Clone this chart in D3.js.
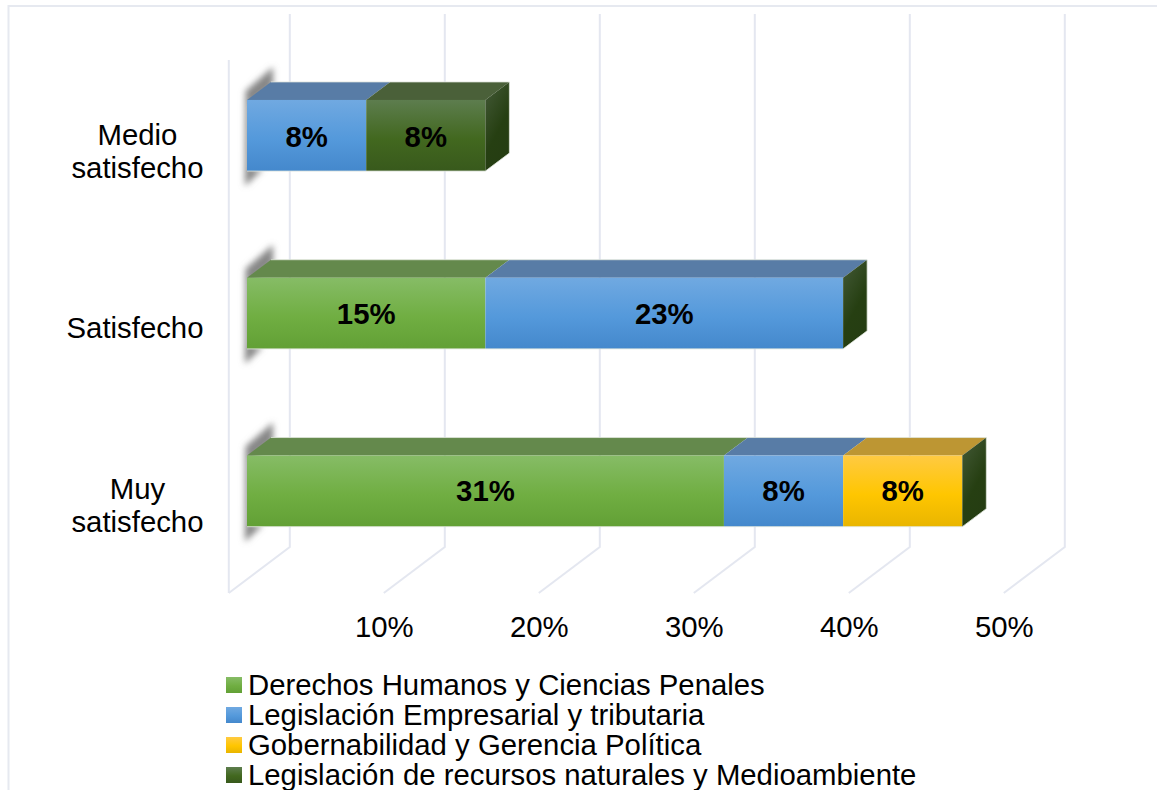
<!DOCTYPE html>
<html>
<head>
<meta charset="utf-8">
<script src="https://cdn.jsdelivr.net/npm/d3@7"></script>
<style>
  html, body { margin: 0; padding: 0; background: #fff; overflow: hidden; }
  svg { display: block; font-family: "Liberation Sans", Arial, sans-serif; }
</style>
</head>
<body>
<svg id="chart" width="1157" height="790"></svg>
<script>
const categories = ['Medio satisfecho', 'Satisfecho', 'Muy satisfecho'];
const categoryLines = [['Medio', 'satisfecho'], ['Satisfecho'], ['Muy', 'satisfecho']];
const seriesNames = [
  'Derechos Humanos y Ciencias Penales',
  'Legislación Empresarial y tributaria',
  'Gobernabilidad y Gerencia Política',
  'Legislación de recursos naturales y Medioambiente',
];
const derechos = [0, 15.38, 30.77];
const empresarial = [7.69, 23.08, 7.69];
const gobernabilidad = [0, 0, 7.69];
const recursos = [7.69, 0, 0];
const labels = [
  ['', '15%', '31%'],
  ['8%', '23%', '8%'],
  ['', '', '8%'],
  ['8%', '', ''],
];
const xTicks = [10, 20, 30, 40, 50];

const frontColors = [
  ['#86bc66', '#70ae42', '#62a035'],
  ['#70a9e1', '#5499db', '#4488cc'],
  ['#ffca42', '#ffc600', '#e9b500'],
  ['#5d7d4e', '#42681f', '#38591c'],
];
const topColors = ['#64894c', '#587ca6', '#bd9633', '#4a6039'];
const gridColor = '#e4e7f0';
const fontSize = 29.33;

const svg = d3.select('#chart');
const defs = svg.append('defs');

frontColors.forEach((c, i) => {
  const g = defs.append('linearGradient').attr('id', `front${i}`)
    .attr('x1', 0).attr('y1', 0).attr('x2', 0).attr('y2', 1);
  g.append('stop').attr('offset', '0%').attr('stop-color', c[0]);
  g.append('stop').attr('offset', '55%').attr('stop-color', c[1]);
  g.append('stop').attr('offset', '100%').attr('stop-color', c[2]);
});
const sideGrad = defs.append('linearGradient').attr('id', 'side')
  .attr('x1', 0).attr('y1', 0).attr('x2', 0.5).attr('y2', 1);
sideGrad.append('stop').attr('offset', '0%').attr('stop-color', '#445a38');
sideGrad.append('stop').attr('offset', '65%').attr('stop-color', '#263f12');
sideGrad.append('stop').attr('offset', '100%').attr('stop-color', '#253d12');
defs.append('filter').attr('id', 'blur')
  .attr('x', '-30%').attr('y', '-30%').attr('width', '160%').attr('height', '160%')
  .append('feGaussianBlur').attr('stdDeviation', 3);

// scales: x is measured from the front floor edge, the rest are depth offsets
const x = d3.scaleLinear().domain([0, 50]).range([228.8, 1003.8]);
const y = d3.scaleBand().domain(categories).range([46.6, 580]).paddingInner(0.6).paddingOuter(0.3);
const labelBase = d3.scalePoint().domain(categories).range([147.3, 501]);
const categoryMid = d3.scalePoint().domain(categories).range([161.6, 515.2]);
const wallDx = 61, wallDy = 46, wallTop = 14, floorY = 593;
const barInset = 18.2, barDx = 24, barDy = 18;

const rows = categories.map((c, i) => ({
  category: c,
  s0: derechos[i], s1: empresarial[i], s2: gobernabilidad[i], s3: recursos[i],
}));
const stacked = d3.stack().keys(['s0', 's1', 's2', 's3'])(rows);
const bx = (v) => x(v) + barInset;

// outer frame
svg.append('path')
  .attr('d', 'M1157,6H8.5V790')
  .attr('fill', 'none')
  .attr('stroke', '#e6e9f0')
  .attr('stroke-width', 2);

// walls and floor
const grid = svg.append('g').attr('fill', 'none').attr('stroke', gridColor).attr('stroke-width', 2);
grid.selectAll('path.wall')
  .data([0].concat(xTicks))
  .join('path')
  .attr('class', 'wall')
  .attr('d', (d) => `M${x(d) + wallDx},${wallTop}V${floorY - wallDy}L${x(d)},${floorY}`);
grid.append('path')
  .attr('d', `M${x(0)},${floorY}V${wallTop + wallDy}`);

// soft shadow the bars throw on the left side
svg.append('g').attr('filter', 'url(#blur)').attr('fill', '#868686')
  .selectAll('path')
  .data(categories)
  .join('path')
  .attr('d', (d) => {
    const t = y(d), b = t + y.bandwidth(), l = bx(0);
    return `M${l - 1.5},${t - 9}L${l + barDx + 2},${t - barDy - 15}V${t - barDy + 4}L${l + 4},${t + 4}V${b - 2}`
      + `H${l + 16}L${l - 2},${b + 15}Z`;
  });

// bars
const bars = svg.append('g');
stacked.forEach((layer, si) => {
  const seg = bars.append('g').selectAll('g')
    .data(layer.filter((d) => d[1] > d[0]))
    .join('g');
  seg.append('path')
    .attr('fill', topColors[si])
    .attr('d', (d) => {
      const t = y(d.data.category);
      return `M${bx(d[0])},${t}L${bx(d[0]) + barDx},${t - barDy}H${bx(d[1]) + barDx}L${bx(d[1])},${t}Z`;
    });
  seg.append('rect')
    .attr('x', (d) => bx(d[0]))
    .attr('y', (d) => y(d.data.category))
    .attr('width', (d) => bx(d[1]) - bx(d[0]))
    .attr('height', y.bandwidth())
    .attr('fill', `url(#front${si})`);
});

// end cap of each stack, always in the last series colour
bars.append('g').selectAll('path')
  .data(rows)
  .join('path')
  .attr('fill', 'url(#side)')
  .attr('d', (d) => {
    const r = bx(d.s0 + d.s1 + d.s2 + d.s3), t = y(d.category), b = t + y.bandwidth();
    return `M${r},${t}L${r + barDx},${t - barDy}V${b - barDy}L${r},${b}Z`;
  });

// pale edge around each whole bar
bars.append('g').attr('fill', 'none').attr('stroke', '#dfe6dc').attr('stroke-width', 0.8)
  .selectAll('path')
  .data(rows)
  .join('path')
  .attr('d', (d) => {
    const r = bx(d.s0 + d.s1 + d.s2 + d.s3), l = bx(0), t = y(d.category), b = t + y.bandwidth();
    return `M${l},${b}H${r}L${r + barDx},${b - barDy}V${t - barDy}H${l + barDx}`;
  });

// data labels
stacked.forEach((layer, si) => {
  svg.append('g').selectAll('text')
    .data(layer.filter((d, i) => labels[si][i] !== ''))
    .join('text')
    .attr('x', (d) => (bx(d[0]) + bx(d[1])) / 2)
    .attr('y', (d) => labelBase(d.data.category))
    .attr('text-anchor', 'middle')
    .attr('font-size', fontSize)
    .attr('font-weight', 'bold')
    .attr('fill', '#000')
    .text((d) => labels[si][categories.indexOf(d.data.category)]);
});

// x axis labels
const xAxis = svg.append('g')
  .attr('transform', `translate(0,${floorY + 20})`)
  .call(d3.axisBottom(x).tickValues(xTicks).tickSize(0).tickFormat((d) => `${d}%`));
xAxis.select('.domain').remove();
xAxis.selectAll('text')
  .attr('font-family', '"Liberation Sans", Arial, sans-serif')
  .attr('font-size', fontSize)
  .attr('fill', '#000');

// category labels, lines centred on each other with the widest ending at the axis
const labelRight = 203.5, lineGap = 33;
const catGroups = svg.append('g').selectAll('text')
  .data(categories)
  .join('text')
  .attr('font-size', fontSize)
  .attr('fill', '#000');
catGroups.each(function (d, i) {
  const el = d3.select(this);
  const lines = categoryLines[i];
  const base = categoryMid(d) - (lines.length - 1) * lineGap / 2;
  const spans = lines.map((t, k) => el.append('tspan').attr('y', base + k * lineGap).text(t));
  const widths = spans.map((s) => s.node().getComputedTextLength());
  const max = d3.max(widths);
  spans.forEach((s, k) => s.attr('x', labelRight - max + (max - widths[k]) / 2));
});

// legend
const legendY = d3.scalePoint().domain(seriesNames).range([694.5, 784.5]);
const legend = svg.append('g').selectAll('g')
  .data(seriesNames)
  .join('g');
legend.append('rect')
  .attr('x', 226)
  .attr('y', (d) => legendY(d) - 17.5)
  .attr('width', 16)
  .attr('height', 16)
  .attr('fill', (d, i) => `url(#front${i})`);
legend.append('text')
  .attr('x', 248)
  .attr('y', (d) => legendY(d))
  .attr('font-size', fontSize)
  .attr('fill', '#000')
  .text((d) => d);
</script>
</body>
</html>
